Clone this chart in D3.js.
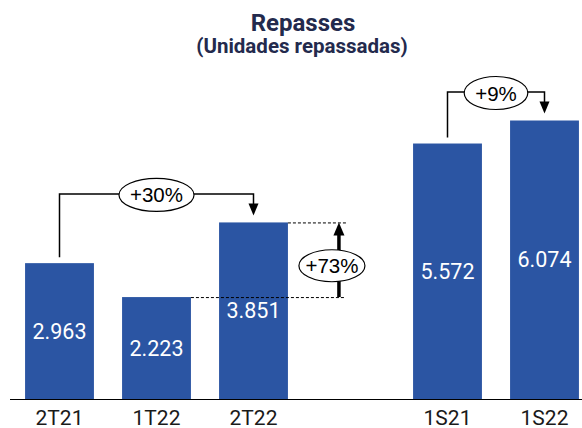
<!DOCTYPE html>
<html>
<head>
<meta charset="utf-8">
<script src="https://cdn.jsdelivr.net/npm/d3@7"></script>
<style>
  body { margin: 0; background: #fff; }
  svg { display: block; }
</style>
</head>
<body>
<div class="chart"></div>
<script>
// chart data
const categories = ["2T21", "1T22", "2T22", "", "1S21", "1S22"];
const barCats = ["2T21", "1T22", "2T22", "1S21", "1S22"];
const values = [2963, 2223, 3851, 5572, 6074];
const valueLabels = ["2.963", "2.223", "3.851", "5.572", "6.074"];

// bracket comparisons (from -> to)
const bracketFrom = ["2T21", "1S21"];
const bracketTo = ["2T22", "1S22"];
const bracketLabels = ["+30%", "+9%"];

// vertical comparison
const growthFrom = "1T22";
const growthTo = "2T22";
const growthLabel = "+73%";

const width = 582;
const height = 428;
const baseY = 399;
const annFont = 'Liberation Sans, Arial, sans-serif';

const svg = d3.select('.chart')
  .append('svg')
  .attr('width', width)
  .attr('height', height);

// title
svg.append('text')
  .attr('x', 303).attr('y', 30.5)
  .attr('text-anchor', 'middle')
  .style('font-family', 'Roboto')
  .style('font-weight', 'bold')
  .style('font-size', '24px')
  .style('fill', '#232a4d')
  .text('Repasses');

svg.append('text')
  .attr('x', 302).attr('y', 53)
  .attr('text-anchor', 'middle')
  .style('font-family', 'Roboto')
  .style('font-weight', 'bold')
  .style('font-size', '20.5px')
  .style('fill', '#232a4d')
  .text('(Unidades repassadas)');

// scales
let x = d3.scaleBand()
  .domain(categories)
  .range([11, 593])
  .paddingInner(0.29)
  .paddingOuter(0.145);

let y = d3.scaleLinear()
  .domain([0, 6074])
  .range([baseY, 120.5]);

const data = barCats.map((c, i) => ({cat: c, value: values[i], label: valueLabels[i]}));
const byCat = {};
data.forEach(d => byCat[d.cat] = d);
const cx = c => x(c) + x.bandwidth() / 2;

// bars
svg.selectAll('rect.bar')
  .data(data)
  .enter()
  .append('rect')
  .attr('class', 'bar')
  .attr('x', d => x(d.cat))
  .attr('y', d => y(d.value))
  .attr('width', x.bandwidth())
  .attr('height', d => baseY - y(d.value))
  .style('fill', '#2b55a3');

// value labels in middle of bars
svg.selectAll('text.val')
  .data(data)
  .enter()
  .append('text')
  .attr('class', 'val')
  .attr('x', d => cx(d.cat))
  .attr('y', d => (y(d.value) + baseY) / 2 + 7.5)
  .attr('text-anchor', 'middle')
  .style('font-family', 'Roboto')
  .style('font-size', '21.5px')
  .style('fill', '#fff')
  .text(d => d.label);

// x axis
const xAxis = svg.append('g')
  .attr('transform', `translate(0,${baseY})`)
  .call(d3.axisBottom(x).tickSize(0).tickPadding(0));
xAxis.select('.domain').remove();
xAxis.append('line')
  .attr('x1', 10).attr('x2', width)
  .attr('y1', 0.5).attr('y2', 0.5)
  .attr('stroke', '#000').attr('stroke-width', 1.2);
xAxis.selectAll('.tick text')
  .attr('y', 26)
  .attr('dy', 0)
  .style('font-family', 'Roboto')
  .style('font-size', '21px')
  .style('fill', '#1a1a1a');

// bracket annotations
bracketFrom.forEach((f, i) => {
  const t = bracketTo[i];
  const x1 = cx(f), x2 = cx(t);
  const yf = y(byCat[f].value), yt = y(byCat[t].value);
  const top = Math.min(yf, yt) - 28.5;
  const g = svg.append('g');
  g.append('path')
    .attr('d', `M${x1},${yf - 6} V${top} H${x2} V${yt - 18}`)
    .attr('fill', 'none')
    .attr('stroke', '#000')
    .attr('stroke-width', 1.5);
  g.append('path')
    .attr('d', `M${x2 - 5},${yt - 19} L${x2 + 5},${yt - 19} L${x2},${yt - 7} Z`)
    .style('fill', '#000');
  const mx = (x1 + x2) / 2;
  const ell = g.append('ellipse');
  const lbl = g.append('text')
    .attr('x', mx).attr('y', top + 8.5)
    .attr('text-anchor', 'middle')
    .style('font-family', annFont)
    .style('font-size', '20.5px')
    .style('fill', '#000')
    .text(bracketLabels[i]);
  const w = lbl.node().getComputedTextLength();
  ell.attr('cx', mx).attr('cy', top + 1)
    .attr('rx', w / 2 + 11).attr('ry', 16.5)
    .style('fill', '#fff')
    .style('stroke', '#000')
    .style('stroke-width', 1.2);
});

// vertical growth annotation
const gTop = y(byCat[growthTo].value);
const gBot = y(byCat[growthFrom].value);
const gx = x(growthTo) + x.bandwidth() + 51;
const vg = svg.append('g');
vg.append('line')
  .attr('x1', x(growthTo) + x.bandwidth()).attr('x2', gx + 7)
  .attr('y1', gTop + 0.5).attr('y2', gTop + 0.5)
  .attr('stroke', '#000').attr('stroke-width', 1)
  .attr('stroke-dasharray', '3,2');
vg.append('line')
  .attr('x1', x(growthFrom) + x.bandwidth()).attr('x2', gx + 7)
  .attr('y1', gBot + 0.5).attr('y2', gBot + 0.5)
  .attr('stroke', '#000').attr('stroke-width', 1)
  .attr('stroke-dasharray', '3,2');
vg.append('line')
  .attr('x1', gx).attr('x2', gx)
  .attr('y1', gBot).attr('y2', gTop + 10)
  .attr('stroke', '#000').attr('stroke-width', 3.5);
vg.append('path')
  .attr('d', `M${gx - 5.5},${gTop + 13} L${gx + 5.5},${gTop + 13} L${gx},${gTop} Z`)
  .style('fill', '#000');
const gy = (gTop + gBot) / 2 + 6;
const gell = vg.append('ellipse');
const gl = vg.append('text')
  .attr('x', gx - 7).attr('y', gy + 7.5)
  .attr('text-anchor', 'middle')
  .style('font-family', annFont)
  .style('font-size', '20.5px')
  .style('fill', '#000')
  .text(growthLabel);
const gw = gl.node().getComputedTextLength();
gell.attr('cx', gx - 7).attr('cy', gy)
  .attr('rx', gw / 2 + 6.5).attr('ry', 16)
  .style('fill', '#fff')
  .style('stroke', '#000')
  .style('stroke-width', 1.2);
</script>
</body>
</html>
